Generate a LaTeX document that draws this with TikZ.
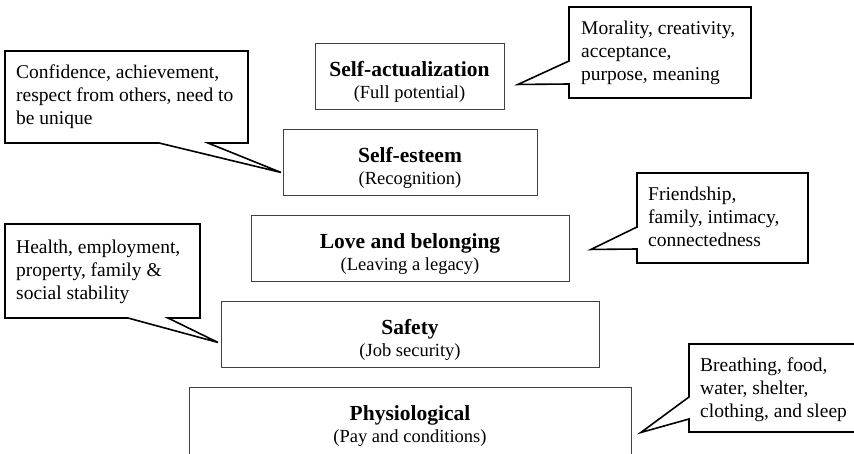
\documentclass[tikz,border=0pt]{standalone}
\usepackage{fontspec}
\setmainfont{Liberation Serif}
\begin{document}
\begin{tikzpicture}[x=1pt,y=-1pt,
  levelbox/.style={draw=black!75, line width=0.9pt, rectangle, inner sep=0pt,
    anchor=north west, minimum height=66pt},
  leveltext/.style={anchor=base, inner sep=0pt},
  calloutline/.style={draw=black, line width=1.6pt, line join=miter, fill=white},
  notetext/.style={anchor=base west, inner sep=0pt, font=\fontsize{19.5}{23}\selectfont},
]
\useasboundingbox (0,0) rectangle (854,453);
\clip (0,0) rectangle (854,453);

% two-line label of a pyramid level: bold name, then example in brackets
\newcommand\leveltwo[2]{\fontsize{19}{21.5}\selectfont
  \begin{tabular}[t]{@{}c@{}}{\fontsize{21.5}{21.5}\selectfont\bfseries #1}\\ {\fontsize{18.5}{21.5}\selectfont #2}\end{tabular}}

% ---- pyramid levels ----
\node[levelbox, minimum width=189pt] (actual) at (315,43) {};
\node[leveltext] (actualT) at (409.5,76.5) {\leveltwo{Self-actualization}{(Full potential)}};

\node[levelbox, minimum width=254pt] (esteem) at (283,129) {};
\node[leveltext] (esteemT) at (410,162.5) {\leveltwo{Self-esteem}{(Recognition)}};

\node[levelbox, minimum width=318pt] (love) at (251,215) {};
\node[leveltext] (loveT) at (410,248.5) {\leveltwo{Love and belonging}{(Leaving a legacy)}};

\node[levelbox, minimum width=378pt] (safety) at (221,301) {};
\node[leveltext] (safetyT) at (410,334.5) {\leveltwo{Safety}{(Job security)}};

\node[levelbox, minimum width=442pt, minimum height=90pt] (physio) at (189,387) {};
\node[leveltext] (physioT) at (410,420.5) {\leveltwo{Physiological}{(Pay and conditions)}};

% ---- tips of the speech-bubble tails, taken from the level boxes ----
\coordinate (tipEsteem) at ([xshift=-2pt,yshift=-10pt]esteem.west);
\coordinate (tipActual) at ([xshift=13pt,yshift=-8pt]actual.east);
\coordinate (tipLove)   at ([xshift=21pt,yshift=-1pt]love.east);
\coordinate (tipSafety) at ([xshift=-3pt,yshift=-8pt]safety.west);
\coordinate (tipPhysio) at ([xshift=9pt,yshift=0pt]physio.east);

% ---- speech bubbles ----
\draw[calloutline] (5,51) -- (248,51) -- (248,143) -- (208,143) -- (tipEsteem)
  -- (159,143) -- (5,143) -- cycle;
\node[notetext] (esteemNote) at (16,78) {\begin{tabular}[t]{@{}l@{}}Confidence, achievement,\\ respect from others, need to\\ be unique\end{tabular}};

\draw[calloutline] (569,7) -- (751,7) -- (751,98) -- (569,98) -- (569,84) -- (tipActual)
  -- (569,61) -- cycle;
\node[notetext] (actualNote) at (581,34) {\begin{tabular}[t]{@{}l@{}}Morality, creativity,\\ acceptance,\\ purpose, meaning\end{tabular}};

\draw[calloutline] (637,173) -- (808,173) -- (808,263) -- (637,263) -- (637,249) -- (tipLove)
  -- (637,227) -- cycle;
\node[notetext] (loveNote) at (648,200) {\begin{tabular}[t]{@{}l@{}}Friendship,\\ family, intimacy,\\ connectedness\end{tabular}};

\draw[calloutline] (5,224) -- (200,224) -- (200,318) -- (168,318) -- (tipSafety)
  -- (128,318) -- (5,318) -- cycle;
\node[notetext] (safetyNote) at (16,253) {\begin{tabular}[t]{@{}l@{}}Health, employment,\\ property, family \&\\ social stability\end{tabular}};

\draw[calloutline] (689,344) -- (880,344) -- (880,432) -- (689,432) -- (689,419) -- (tipPhysio)
  -- (689,397) -- cycle;
\node[notetext] (physioNote) at (700,371) {\begin{tabular}[t]{@{}l@{}}Breathing, food,\\ water, shelter,\\ clothing, and sleep\end{tabular}};
\end{tikzpicture}
\end{document}
